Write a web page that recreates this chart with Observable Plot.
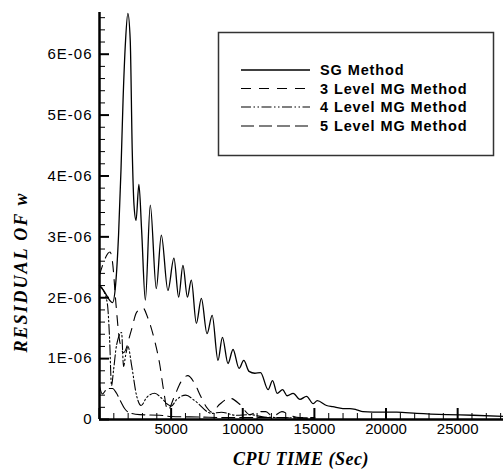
<!DOCTYPE html>
<html>
<head>
<meta charset="utf-8">
<script src="https://cdn.jsdelivr.net/npm/d3@7"></script>
<script src="https://cdn.jsdelivr.net/npm/@observablehq/plot@0.6"></script>
<style>
  html, body { margin: 0; padding: 0; background: white; }
  #chart { position: relative; width: 503px; height: 472px; }
</style>
</head>
<body>
<div id="chart"></div>
<script>
// ---- Data (X = CPU time in sec, Y = residual in units of 1E-06) ----
const sgX = [0, 280, 910, 1120, 1330, 1500, 1645, 1820, 1980, 2145, 2285, 2410, 2550, 2750, 2940, 3200, 3545, 3965, 4315, 4775, 5195, 5525, 5825, 6135, 6410, 6760, 7110, 7505, 7865, 8270, 8580, 8970, 9320, 9740, 10070, 10440, 10840, 11240, 11770, 12080, 12400, 12780, 13100, 13520, 13990, 14450, 14920, 15200, 15850, 16290, 16990, 17480, 17950, 18390, 19790, 20750, 22150, 24250, 26080, 28180];
const sgY = [2.20, 2.12, 1.92, 2.20, 3.03, 4.10, 5.25, 6.23, 6.67, 6.23, 4.42, 3.52, 3.27, 3.86, 3.11, 1.96, 3.52, 2.15, 3.03, 2.12, 2.65, 2.01, 2.53, 2.01, 2.29, 1.58, 1.99, 1.41, 1.71, 0.97, 1.35, 0.92, 1.15, 0.84, 0.97, 0.79, 0.76, 0.77, 0.49, 0.64, 0.43, 0.49, 0.39, 0.43, 0.33, 0.38, 0.26, 0.31, 0.23, 0.21, 0.18, 0.18, 0.16, 0.13, 0.12, 0.12, 0.10, 0.08, 0.07, 0.05];

const mg3X = [0, 210, 735, 910, 1155, 1400, 1680, 2215, 2590, 3040, 3355, 3845, 4195, 4475, 4755, 5245, 5665, 6155, 6645, 7065, 7480, 7830, 8390, 9090, 9790, 10490, 11050, 11610, 12100, 12730, 13290, 13990, 15030];
const mg3Y = [2.37, 2.53, 2.75, 2.58, 1.88, 1.30, 1.10, 1.46, 1.76, 1.83, 1.68, 1.30, 0.92, 0.48, 0.15, 0.39, 0.61, 0.72, 0.59, 0.38, 0.20, 0.12, 0.25, 0.35, 0.25, 0.08, 0.13, 0.13, 0.05, 0.13, 0.07, 0.03, 0.03];

const mg4X = [0, 280, 560, 700, 840, 980, 1190, 1540, 1680, 1820, 1990, 2240, 2590, 2900, 3290, 3845, 4335, 4755, 5000, 5400, 6015, 6700, 7830, 8500, 9500, 10500, 11500, 13000, 15000];
const mg4Y = [2.20, 2.12, 1.88, 1.35, 0.56, 0.81, 1.22, 1.43, 0.87, 1.05, 1.20, 0.89, 0.39, 0.23, 0.36, 0.43, 0.35, 0.25, 0.22, 0.33, 0.40, 0.30, 0.10, 0.12, 0.07, 0.08, 0.04, 0.03, 0.02];

const mg5X = [0, 200, 560, 910, 1190, 1470, 1750, 2100, 2800, 4200, 5000, 7000, 9000, 12000, 15000];
const mg5Y = [0.55, 0.42, 0.51, 0.51, 0.43, 0.30, 0.18, 0.11, 0.08, 0.07, 0.05, 0.04, 0.03, 0.03, 0.02];

const seriesNames = ["SG Method", "3 Level MG Method", "4 Level MG Method", "5 Level MG Method"];
const seriesDash = [null, "10,8", "10,2.5,1.5,2.5,1.5,2.5", "13,5"];
const seriesWidth = [1.3, 1.1, 1.1, 1.1];

const yMajor = [0, 1, 2, 3, 4, 5, 6];
const xMajor = [0, 5000, 10000, 15000, 20000, 25000];
const xLabels = [5000, 10000, 15000, 20000, 25000];

// ---- Build tables ----
const toRows = (xs, ys) => xs.map((x, i) => ({x, y: ys[i] * 1e-6}));
const seriesData = [toRows(sgX, sgY), toRows(mg3X, mg3Y), toRows(mg4X, mg4Y), toRows(mg5X, mg5Y)];

const yMinor = d3.range(0, 6.7, 0.2).map(v => Math.round(v * 10) / 10).filter(v => !yMajor.includes(v)).map(v => v * 1e-6);
const xMinor = d3.range(0, 28001, 1000).filter(v => !xMajor.includes(v));

const W = 503, H = 472, mL = 99, mR = 0, mT = 12, mB = 53;
const innerW = W - mL - mR, innerH = H - mT - mB;

const lineMarks = seriesData.map((data, i) =>
  Plot.line(data, {x: "x", y: "y", curve: "monotone-x", stroke: "black",
    strokeWidth: seriesWidth[i], strokeDasharray: seriesDash[i] ?? undefined})
);

const chart = Plot.plot({
  width: W, height: H,
  marginLeft: mL, marginRight: mR, marginTop: mT, marginBottom: mB,
  x: {domain: [0, 28200]},
  y: {domain: [0, 6.685e-6]},
  style: {fontFamily: "'Liberation Sans', Arial, sans-serif", fontSize: "15px", color: "black", background: "white", overflow: "visible"},
  marks: [
    ...lineMarks.slice().reverse(),
    // inward ticks
    Plot.tickY(yMajor.map(v => v * 1e-6), {y: d => d, stroke: "black", strokeWidth: 2, insetRight: innerW - 10}),
    Plot.tickY(yMinor, {y: d => d, stroke: "black", strokeWidth: 1, insetRight: innerW - 6}),
    Plot.tickX(xMajor, {x: d => d, stroke: "black", strokeWidth: 2, insetTop: innerH - 11}),
    Plot.tickX(xMinor, {x: d => d, stroke: "black", strokeWidth: 1, insetTop: innerH - 6}),
    // axis lines
    Plot.ruleX([0], {stroke: "black", strokeWidth: 2.5}),
    Plot.ruleY([0], {stroke: "black", strokeWidth: 2.5}),
    // tick labels
    Plot.axisY(yMajor.map(v => v * 1e-6), {tickSize: 0, tickPadding: 7, label: null,
      tickFormat: d => d === 0 ? "0" : `${Math.round(d * 1e6)}E-06`}),
    Plot.axisX(xLabels, {tickSize: 0, tickPadding: 4, label: null, tickFormat: d => String(d)})
  ]
});

document.getElementById("chart").appendChild(chart);

// ---- Axis titles and legend ----
const svg = d3.select(chart);
svg.selectAll("[aria-label='y-axis tick label'] text").style("letter-spacing", "1px");

svg.append("text")
  .attr("x", 301).attr("y", 465)
  .attr("text-anchor", "middle")
  .style("font-family", "'Liberation Serif', 'Times New Roman', serif")
  .style("font-weight", "bold").style("font-style", "italic")
  .style("font-size", "18px").style("letter-spacing", "0.5px")
  .attr("fill", "black")
  .text("CPU TIME (Sec)");

svg.append("text")
  .attr("transform", "translate(27,272) rotate(-90)")
  .attr("text-anchor", "middle")
  .style("font-family", "'Liberation Serif', 'Times New Roman', serif")
  .style("font-weight", "bold").style("font-style", "italic")
  .style("font-size", "18px").style("letter-spacing", "2px")
  .attr("fill", "black")
  .text("RESIDUAL OF w");

const lg = svg.append("g");
lg.append("rect").attr("x", 218.5).attr("y", 32.5).attr("width", 275).attr("height", 123)
  .attr("fill", "white").attr("stroke", "#333").attr("stroke-width", 1.5);
const rowY = [70, 88.5, 107, 126];
seriesNames.forEach((name, i) => {
  lg.append("line").attr("x1", 241).attr("x2", 310).attr("y1", rowY[i]).attr("y2", rowY[i])
    .attr("stroke", "black").attr("stroke-width", seriesWidth[i])
    .attr("stroke-dasharray", seriesDash[i]);
  lg.append("text").attr("x", 320).attr("y", rowY[i] + 5)
    .attr("text-anchor", "start")
    .style("font-family", "'Liberation Sans', Arial, sans-serif")
    .style("font-weight", "bold").style("font-size", "14.5px").style("letter-spacing", "0.9px")
    .attr("fill", "black").text(name);
});
</script>
</body>
</html>
